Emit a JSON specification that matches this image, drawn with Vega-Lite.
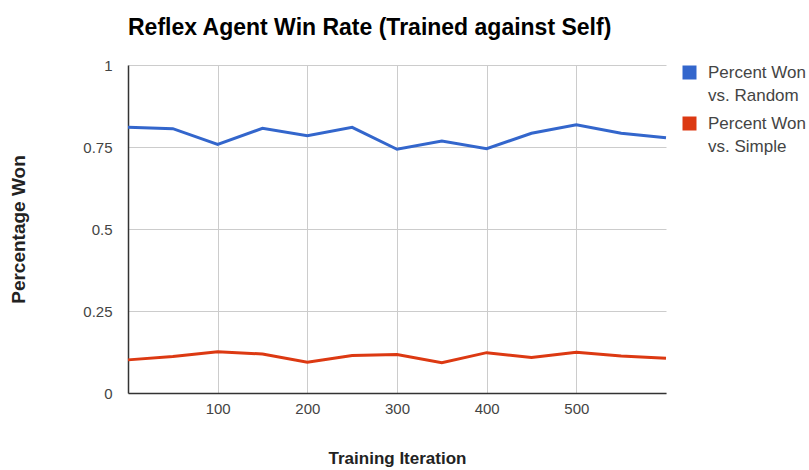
{
  "$schema": "https://vega.github.io/schema/vega-lite/v6.json",
  "width": 538,
  "height": 328,
  "autosize": {"type": "none"},
  "padding": {"left": 128, "top": 65, "right": 143, "bottom": 77},
  "background": "white",
  "title": {
    "text": "Reflex Agent Win Rate (Trained against Self)",
    "anchor": "start",
    "font": "Liberation Sans",
    "fontSize": 23,
    "fontWeight": "bold",
    "color": "#000000",
    "offset": 18,
    "frame": "group"
  },
  "data": {
    "values": [
      {"iteration": 0, "series": "Percent Won vs. Random", "won": 0.810},
      {"iteration": 50, "series": "Percent Won vs. Random", "won": 0.806},
      {"iteration": 100, "series": "Percent Won vs. Random", "won": 0.758},
      {"iteration": 150, "series": "Percent Won vs. Random", "won": 0.807},
      {"iteration": 200, "series": "Percent Won vs. Random", "won": 0.784},
      {"iteration": 250, "series": "Percent Won vs. Random", "won": 0.810},
      {"iteration": 300, "series": "Percent Won vs. Random", "won": 0.743},
      {"iteration": 350, "series": "Percent Won vs. Random", "won": 0.768},
      {"iteration": 400, "series": "Percent Won vs. Random", "won": 0.745},
      {"iteration": 450, "series": "Percent Won vs. Random", "won": 0.792},
      {"iteration": 500, "series": "Percent Won vs. Random", "won": 0.818},
      {"iteration": 550, "series": "Percent Won vs. Random", "won": 0.792},
      {"iteration": 600, "series": "Percent Won vs. Random", "won": 0.778},
      {"iteration": 0, "series": "Percent Won vs. Simple", "won": 0.101},
      {"iteration": 50, "series": "Percent Won vs. Simple", "won": 0.111},
      {"iteration": 100, "series": "Percent Won vs. Simple", "won": 0.126},
      {"iteration": 150, "series": "Percent Won vs. Simple", "won": 0.119},
      {"iteration": 200, "series": "Percent Won vs. Simple", "won": 0.094},
      {"iteration": 250, "series": "Percent Won vs. Simple", "won": 0.114},
      {"iteration": 300, "series": "Percent Won vs. Simple", "won": 0.117},
      {"iteration": 350, "series": "Percent Won vs. Simple", "won": 0.092},
      {"iteration": 400, "series": "Percent Won vs. Simple", "won": 0.123},
      {"iteration": 450, "series": "Percent Won vs. Simple", "won": 0.108},
      {"iteration": 500, "series": "Percent Won vs. Simple", "won": 0.124},
      {"iteration": 550, "series": "Percent Won vs. Simple", "won": 0.113},
      {"iteration": 600, "series": "Percent Won vs. Simple", "won": 0.106}
    ]
  },
  "mark": {"type": "line", "strokeWidth": 3, "interpolate": "linear"},
  "encoding": {
    "x": {
      "field": "iteration",
      "type": "quantitative",
      "scale": {"domain": [0, 600], "nice": false, "zero": false},
      "axis": {
        "title": "Training Iteration",
        "values": [100, 200, 300, 400, 500],
        "grid": true,
        "gridColor": "#cccccc",
        "gridWidth": 1,
        "domainColor": "#333333",
        "domainWidth": 1.5,
        "ticks": false,
        "labelPadding": 8,
        "labelFont": "Liberation Sans",
        "labelFontSize": 15,
        "labelColor": "#444444",
        "titleFont": "Liberation Sans",
        "titleFontSize": 17,
        "titleFontWeight": "bold",
        "titleColor": "#222222",
        "titlePadding": 34
      }
    },
    "y": {
      "field": "won",
      "type": "quantitative",
      "scale": {"domain": [0, 1], "nice": false},
      "axis": {
        "title": "Percentage Won",
        "values": [0, 0.25, 0.5, 0.75, 1],
        "format": ".2~f",
        "grid": true,
        "gridColor": "#cccccc",
        "gridWidth": 1,
        "domainColor": "#333333",
        "domainWidth": 1.5,
        "ticks": false,
        "labelPadding": 16,
        "labelFont": "Liberation Sans",
        "labelFontSize": 15,
        "labelColor": "#444444",
        "titleFont": "Liberation Sans",
        "titleFontSize": 19,
        "titleFontWeight": "bold",
        "titleColor": "#222222",
        "titlePadding": 54
      }
    },
    "color": {
      "field": "series",
      "type": "nominal",
      "scale": {"domain": ["Percent Won vs. Random", "Percent Won vs. Simple"], "range": ["#3366CC", "#DC3912"]},
      "legend": {
        "title": null,
        "orient": "none",
        "legendX": 553,
        "legendY": -1,
        "symbolType": "square",
        "symbolSize": 196,
        "labelExpr": "['Percent Won', slice(datum.label, 12)]",
        "labelFont": "Liberation Sans",
        "labelFontSize": 17,
        "labelColor": "#444444",
        "labelOffset": 10,
        "labelLimit": 200,
        "rowPadding": 10,
        "encode": {
          "symbols": {"update": {"fill": {"scale": "color", "field": "value"}, "stroke": {"value": "transparent"}, "strokeWidth": {"value": 0}}},
          "labels": {"update": {"lineHeight": {"value": 23}}}
        }
      }
    }
  },
  "config": {"view": {"stroke": null}}
}
